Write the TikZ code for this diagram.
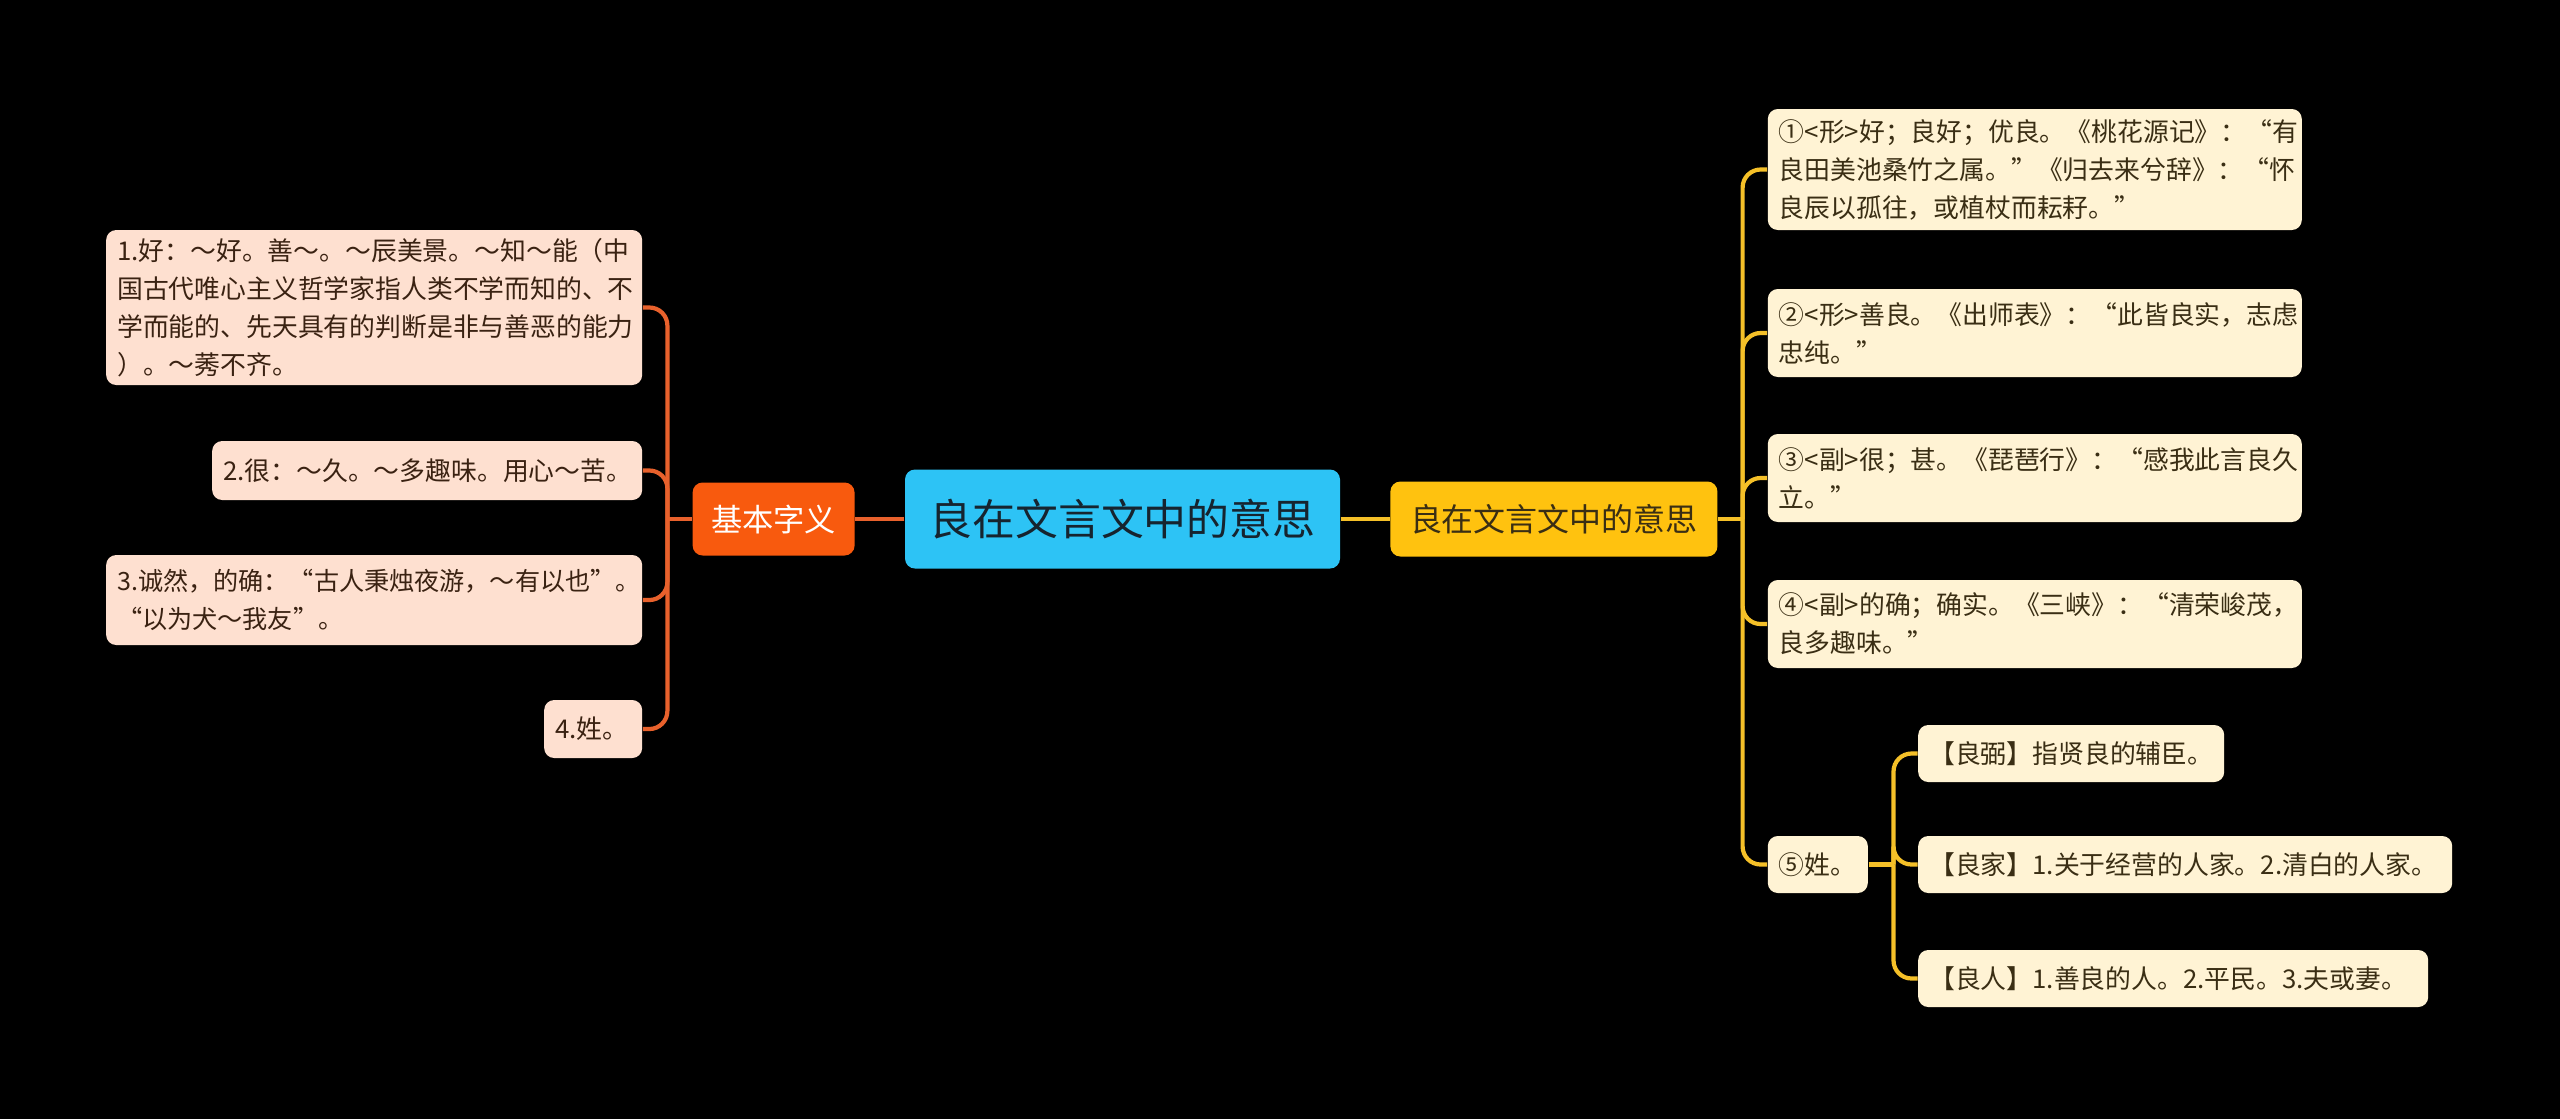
\documentclass[tikz,border=0pt]{standalone}
\usepackage{fontspec}
\setmainfont{Noto Sans CJK SC}
\usepackage{tikz}
\usetikzlibrary{positioning}
\definecolor{maporange}{HTML}{F85A0E}
\definecolor{mapblue}{HTML}{2DC3F5}
\definecolor{mapyellow}{HTML}{FFC20F}
\definecolor{mappeach}{HTML}{FEE0D0}
\definecolor{mapcream}{HTML}{FFF3D4}
\definecolor{linkorange}{HTML}{E8612C}
\definecolor{linkyellow}{HTML}{F5C028}
\definecolor{inkbrown}{HTML}{3A2212}
\definecolor{inkolive}{HTML}{3A2E14}
\definecolor{inknavy}{HTML}{16242F}

\begin{document}
\begin{tikzpicture}[
    hub/.style={rounded corners=0.1cm,align=center,inner sep=0pt},
    leafl/.style={fill=mappeach,text=inkbrown,rounded corners=0.1cm,align=left,inner xsep=0.11cm,inner ysep=0pt,font=\fontsize{7.35}{10.8}\selectfont},
    leafr/.style={leafl,fill=mapcream,text=inkolive},
    olink/.style={draw=linkorange,line width=1.2pt},
    ylink/.style={draw=linkyellow,line width=1.2pt},
    node distance=0.49cm
  ]
    \useasboundingbox[fill=black] (0,0) rectangle (25.6,-11.19);

    \node[hub,fill=mapblue,text=inknavy,minimum width=4.35cm,minimum height=0.99cm,font=\fontsize{12.2}{14}\selectfont] (root) at (11.225,-5.19) {良在文言文中的意思};
    \node[hub,fill=maporange,text=white,minimum width=1.62cm,minimum height=0.73cm,font=\fontsize{8.9}{11}\selectfont,left=of root] (basic) {基本字义};
    \node[hub,fill=mapyellow,text=inkolive,minimum width=3.27cm,minimum height=0.75cm,font=\fontsize{9.1}{11}\selectfont,right=of root] (sense) {良在文言文中的意思};

    % left side
    \node[leafl,text width=5.14cm,minimum height=1.55cm,left=of basic,yshift=2.115cm] (l1) {1.好：～好。善～。～辰美景。～知～能（中\\国古代唯心主义哲学家指人类不学而知的、不\\学而能的、先天具有的判断是非与善恶的能力\\）。～莠不齐。};
    \node[leafl,text width=4.08cm,minimum height=0.59cm,left=of basic,yshift=0.485cm] (l2) {2.很：～久。～多趣味。用心～苦。};
    \node[leafl,text width=5.14cm,minimum height=0.90cm,font=\fontsize{7.15}{10.8}\selectfont,left=of basic,yshift=-0.81cm] (l3) {3.诚然，的确：“古人秉烛夜游，～有以也”。\\“以为犬～我友”。};
    \node[leafl,text width=0.76cm,minimum height=0.58cm,left=of basic,yshift=-2.10cm] (l4) {4.姓。};

    % right side
    \node[leafr,text width=5.12cm,minimum height=1.21cm,right=of sense,yshift=3.495cm] (r1) {①<形>好；良好；优良。《桃花源记》：“有\\良田美池桑竹之属。”《归去来兮辞》：“怀\\良辰以孤往，或植杖而耘耔。”};
    \node[leafr,text width=5.12cm,minimum height=0.88cm,right=of sense,yshift=1.86cm] (r2) {②<形>善良。《出师表》：“此皆良实，志虑\\忠纯。”};
    \node[leafr,text width=5.12cm,minimum height=0.88cm,right=of sense,yshift=0.41cm] (r3) {③<副>很；甚。《琵琶行》：“感我此言良久\\立。”};
    \node[leafr,text width=5.12cm,minimum height=0.88cm,right=of sense,yshift=-1.05cm] (r4) {④<副>的确；确实。《三峡》：“清荣峻茂，\\良多趣味。”};
    \node[leafr,text width=0.78cm,minimum height=0.57cm,right=of sense,yshift=-3.455cm] (r5) {⑤姓。};

    \node[leafr,text width=2.84cm,minimum height=0.57cm,right=of r5,yshift=1.11cm] (c1) {【良弼】指贤良的辅臣。};
    \node[leafr,text width=5.12cm,minimum height=0.57cm,right=of r5] (c2) {【良家】1.关于经营的人家。2.清白的人家。};
    \node[leafr,text width=4.88cm,minimum height=0.57cm,right=of r5,yshift=-1.14cm] (c3) {【良人】1.善良的人。2.平民。3.夫或妻。};

    \coordinate[left=0.245cm of basic] (lhub);
    \coordinate[right=0.245cm of sense] (rhub);
    \coordinate[right=0.25cm of r5] (chub);

    % connectors
    \draw[olink] (root) -- (basic);
    \draw[olink] (basic.west) -- (lhub);
    \foreach \leaf in {l1,l2,l3,l4}
      \draw[olink,rounded corners=0.18cm] (lhub) |- (\leaf.east);
    \draw[ylink] (root) -- (sense);
    \draw[ylink] (sense.east) -- (rhub);
    \foreach \i in {1,...,5}
      \draw[ylink,rounded corners=0.18cm] (rhub) |- (r\i.west);
    \draw[ylink] (r5.east) -- (chub);
    \foreach \leaf in {c1,c2,c3}
      \draw[ylink,rounded corners=0.18cm] (chub) |- (\leaf.west);
  \end{tikzpicture}
\end{document}
